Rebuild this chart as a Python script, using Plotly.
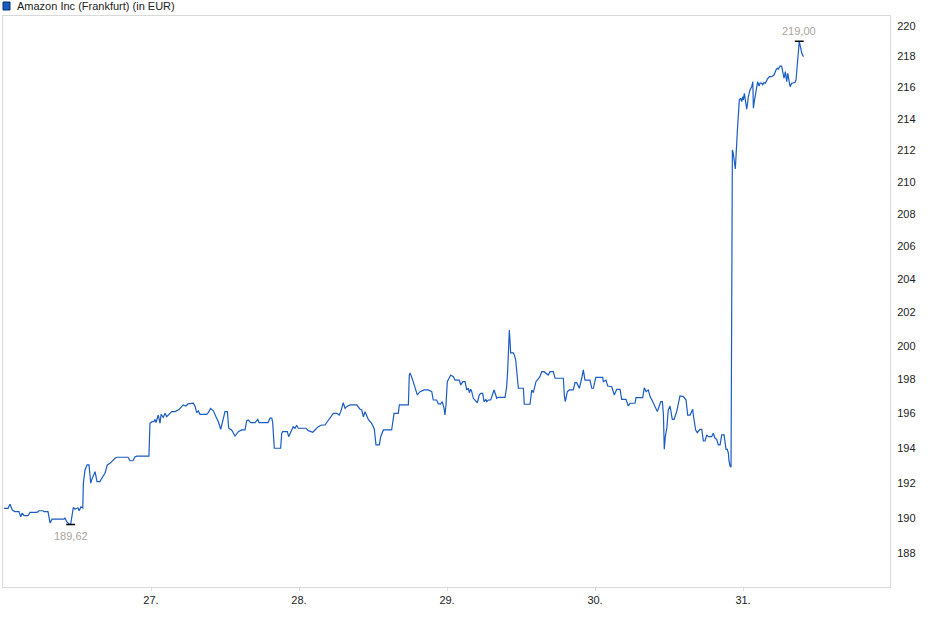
import math
import plotly.graph_objects as go

# time in days (day of month + fraction), price in EUR
times = [
    26.007, 26.034, 26.047, 26.063, 26.081, 26.108, 26.120, 26.130, 26.142, 26.169,
    26.182, 26.230, 26.243, 26.270, 26.277, 26.304, 26.318, 26.331, 26.412, 26.419,
    26.430, 26.446, 26.457, 26.464, 26.475, 26.486, 26.507, 26.514, 26.527, 26.539,
    26.543, 26.554, 26.568, 26.581, 26.593, 26.599, 26.622, 26.635, 26.655, 26.667,
    26.689, 26.705, 26.723, 26.757, 26.770, 26.845, 26.858, 26.878, 26.892, 26.905,
    26.986, 26.993, 27.007, 27.020, 27.027, 27.034, 27.049, 27.061, 27.068, 27.083,
    27.095, 27.106, 27.124, 27.140, 27.162, 27.191, 27.218, 27.236, 27.250, 27.275,
    27.286, 27.297, 27.309, 27.320, 27.331, 27.376, 27.387, 27.403, 27.421, 27.439,
    27.455, 27.471, 27.484, 27.500, 27.516, 27.525, 27.545, 27.556, 27.568, 27.590,
    27.613, 27.635, 27.647, 27.657, 27.674, 27.703, 27.721, 27.730, 27.791, 27.804,
    27.816, 27.822, 27.833, 27.876, 27.883, 27.890, 27.921, 27.930, 27.944, 27.961,
    27.973, 27.984, 27.995, 28.047, 28.063, 28.093, 28.108, 28.130, 28.153, 28.176,
    28.191, 28.209, 28.232, 28.255, 28.272, 28.282, 28.299, 28.311, 28.322, 28.345,
    28.390, 28.412, 28.424, 28.435, 28.446, 28.468, 28.491, 28.509, 28.520, 28.543,
    28.552, 28.570, 28.626, 28.642, 28.671, 28.678, 28.739, 28.745, 28.750, 28.764,
    28.777, 28.799, 28.818, 28.845, 28.874, 28.897, 28.907, 28.930, 28.941, 28.957,
    28.968, 28.980, 28.986, 28.993, 29.002, 29.025, 29.043, 29.054, 29.083, 29.093,
    29.106, 29.122, 29.133, 29.144, 29.151, 29.160, 29.167, 29.178, 29.205, 29.218,
    29.228, 29.241, 29.250, 29.262, 29.268, 29.279, 29.295, 29.309, 29.318, 29.336,
    29.347, 29.392, 29.403, 29.410, 29.414, 29.421, 29.426, 29.430, 29.448, 29.455,
    29.464, 29.475, 29.482, 29.516, 29.522, 29.561, 29.572, 29.583, 29.601, 29.628,
    29.640, 29.655, 29.669, 29.684, 29.696, 29.718, 29.730, 29.786, 29.793, 29.799,
    29.813, 29.826, 29.853, 29.865, 29.876, 29.894, 29.910, 29.921, 29.932, 29.966,
    29.978, 29.989, 30.005, 30.052, 30.056, 30.068, 30.074, 30.086, 30.113, 30.130,
    30.147, 30.169, 30.180, 30.209, 30.225, 30.236, 30.270, 30.277, 30.322, 30.333,
    30.345, 30.360, 30.372, 30.390, 30.405, 30.421, 30.444, 30.455, 30.462, 30.468,
    30.475, 30.485, 30.495, 30.507, 30.522, 30.534, 30.552, 30.559, 30.574, 30.597,
    30.615, 30.626, 30.642, 30.660, 30.664, 30.680, 30.691, 30.709, 30.721, 30.732,
    30.743, 30.755, 30.765, 30.788, 30.799, 30.811, 30.822, 30.833, 30.845, 30.856,
    30.872, 30.878, 30.885, 30.894, 30.901, 30.905, 30.912, 30.919, 30.924, 30.928,
    30.934, 30.939, 30.948, 30.962, 30.968, 30.975, 30.984, 30.991, 30.998, 31.002,
    31.009, 31.018, 31.025, 31.029, 31.036, 31.047, 31.059, 31.066, 31.070, 31.076,
    31.086, 31.093, 31.099, 31.108, 31.115, 31.126, 31.133, 31.142, 31.151, 31.164,
    31.178, 31.194, 31.209, 31.223, 31.232, 31.238, 31.250, 31.261, 31.268, 31.277,
    31.286, 31.295, 31.302, 31.318, 31.329, 31.340, 31.351, 31.358, 31.367, 31.374,
    31.380, 31.390, 31.397, 31.408,
]

prices = [
    190.54, 190.54, 190.77, 190.44, 190.35, 190.35, 190.06, 190.27, 190.12, 190.12,
    190.31, 190.31, 190.40, 190.40, 190.35, 190.35, 189.71, 189.92, 189.92, 190.00,
    189.78, 189.65, 189.62, 190.06, 190.58, 190.50, 190.56, 190.40, 190.62, 190.56,
    191.97, 192.73, 193.02, 193.02, 191.97, 192.16, 192.63, 192.06, 192.06, 192.25,
    192.54, 193.02, 193.11, 193.40, 193.46, 193.46, 193.26, 193.26, 193.49, 193.52,
    193.52, 195.43, 195.52, 195.52, 195.66, 195.47, 195.91, 195.43, 195.95, 195.78,
    196.01, 195.81, 195.97, 196.11, 196.11, 196.25, 196.50, 196.44, 196.56, 196.56,
    196.60, 196.44, 196.05, 196.16, 195.95, 195.95, 196.05, 196.30, 196.16, 195.81,
    195.52, 195.08, 195.52, 196.11, 196.11, 195.14, 195.04, 194.85, 194.69, 194.94,
    195.04, 195.04, 195.58, 195.62, 195.47, 195.47, 195.66, 195.47, 195.47, 195.73,
    195.73, 195.47, 193.98, 193.98, 194.85, 194.94, 194.94, 194.65, 194.94, 195.23,
    195.14, 195.31, 195.14, 195.14, 195.00, 194.91, 195.04, 195.23, 195.33, 195.33,
    195.52, 195.72, 196.01, 196.01, 195.91, 196.11, 196.63, 196.30, 196.40, 196.50,
    196.50, 196.25, 196.21, 195.81, 196.11, 195.66, 195.43, 195.08, 194.17, 194.17,
    194.65, 195.04, 195.04, 196.01, 196.01, 196.50, 196.50, 198.26, 198.38, 198.08,
    197.73, 197.09, 197.28, 197.38, 197.38, 197.28, 196.79, 196.79, 196.56, 196.56,
    196.69, 196.30, 195.91, 196.50, 197.87, 198.26, 198.16, 197.96, 197.96, 197.67,
    197.87, 197.87, 197.38, 197.48, 197.22, 197.42, 197.28, 196.89, 196.63, 197.09,
    197.18, 197.18, 196.69, 196.83, 196.69, 196.79, 196.79, 197.09, 197.38, 196.89,
    196.95, 196.95, 197.57, 198.56, 200.04, 200.94, 200.24, 199.58, 199.58, 199.45,
    199.15, 197.96, 197.48, 197.48, 196.54, 196.54, 197.38, 197.22, 197.87, 198.16,
    198.46, 198.46, 198.36, 198.26, 198.46, 198.46, 198.07, 198.07, 197.03, 196.69,
    197.28, 197.38, 197.38, 197.81, 197.81, 197.48, 198.07, 198.56, 197.96, 197.96,
    197.48, 197.48, 198.12, 198.12, 197.87, 197.96, 197.96, 197.61, 197.57, 197.09,
    197.42, 197.42, 196.83, 196.83, 196.44, 196.60, 196.60, 196.93, 196.93, 197.51,
    197.28, 197.38, 196.99, 196.69, 196.44, 196.11, 196.69, 196.69, 195.95, 193.92,
    194.65, 195.14, 196.21, 196.44, 195.66, 195.66, 196.11, 196.40, 197.03, 196.99,
    196.79, 195.91, 195.91, 196.25, 195.91, 195.04, 194.88, 195.08, 195.08, 194.40,
    194.40, 194.75, 194.65, 194.65, 194.85, 194.56, 194.50, 194.17, 194.17, 194.75,
    194.75, 194.36, 193.92, 193.92, 193.69, 193.26, 192.96, 192.89, 202.14, 212.02,
    211.81, 211.52, 210.82, 213.29, 214.56, 215.21, 215.31, 215.10, 215.42, 215.21,
    215.63, 214.82, 214.61, 214.88, 215.42, 215.85, 216.06, 216.38, 214.67, 215.10,
    215.63, 215.95, 216.38, 216.10, 216.28, 216.28, 216.17, 216.32, 216.28, 216.54,
    216.70, 216.70, 216.81, 217.14, 217.25, 217.18, 217.39, 217.39, 217.03, 216.60,
    217.03, 216.38, 216.92, 216.06, 216.28, 216.32, 216.32, 216.49, 217.67, 218.32,
    219.00, 218.54, 218.22, 217.99,
]

y_ticks = [188, 190, 192, 194, 196, 198, 200, 202, 204, 206, 208, 210, 212, 214, 216, 218, 220]
x_ticks = [27, 28, 29, 30, 31]
x_tick_labels = ["27.", "28.", "29.", "30.", "31."]
series_name = "Amazon Inc (Frankfurt) (in EUR)"

LINE = "#1a5bc4"
FONT = "Arial, Liberation Sans, sans-serif"
LABEL_COL = "#aaa49c"

i_max = max(range(len(prices)), key=lambda i: prices[i])
i_min = min(range(len(prices)), key=lambda i: prices[i])


def fmt(v):
    return f"{v:.2f}".replace(".", ",")


fig = go.Figure()
fig.add_trace(go.Scatter(x=times, y=prices, mode="lines",
                         line=dict(color=LINE, width=1.2), showlegend=False,
                         hoverinfo="x+y"))
half = 0.03
for i in (i_max, i_min):
    fig.add_trace(go.Scatter(x=[times[i] - half, times[i] + half], y=[prices[i], prices[i]],
                             mode="lines", line=dict(color="black", width=1.5),
                             showlegend=False, hoverinfo="skip"))

fig.add_annotation(x=times[i_max], y=math.log10(prices[i_max]), xref="x", yref="y",
                   text=fmt(prices[i_max]), showarrow=False, yanchor="bottom", yshift=2,
                   font=dict(family=FONT, size=11, color=LABEL_COL))
fig.add_annotation(x=times[i_min], y=math.log10(prices[i_min]), xref="x", yref="y",
                   text=fmt(prices[i_min]), showarrow=False, yanchor="top", yshift=-3,
                   font=dict(family=FONT, size=11, color=LABEL_COL))

# legend-like header
fig.add_shape(type="rect", xref="paper", yref="paper", x0=0.0, x1=0.0079, y0=1.0105, y1=1.0245,
              fillcolor=LINE, line=dict(color="#0d2f6b", width=1))
fig.add_annotation(xref="paper", yref="paper", x=0.0135, y=1.0175, xanchor="left", yanchor="middle",
                   text=series_name, showarrow=False, font=dict(family=FONT, size=11, color="#222222"))

ymin = 220 * math.exp(-(587 - 26) / 3354.6)
ymax = 220 * math.exp(10 / 3354.6)

fig.update_layout(
    width=932, height=621,
    margin=dict(l=3, r=42, t=16, b=34),
    paper_bgcolor="white", plot_bgcolor="white",
    font=dict(family=FONT, size=11, color="#222222"),
    xaxis=dict(range=[26.0, 31.993], tickvals=x_ticks, ticktext=x_tick_labels,
               showgrid=False, zeroline=False, showline=True, mirror=True,
               linecolor="#d9d9d9", linewidth=1, ticks="outside", ticklen=3,
               tickcolor="#d9d9d9", tickfont=dict(size=11, color="#222222")),
    yaxis=dict(type="log", range=[math.log10(ymin), math.log10(ymax)], side="right",
               tickvals=y_ticks, ticktext=[str(v) for v in y_ticks],
               showgrid=False, zeroline=False, showline=True, mirror=True,
               linecolor="#d9d9d9", linewidth=1, ticks="", ticklabelstandoff=4,
               tickfont=dict(size=11, color="#222222")),
)

fig.write_html("out.html", config={"displayModeBar": False},
               post_script="document.body.style.margin='0';document.body.style.overflow='hidden';")
